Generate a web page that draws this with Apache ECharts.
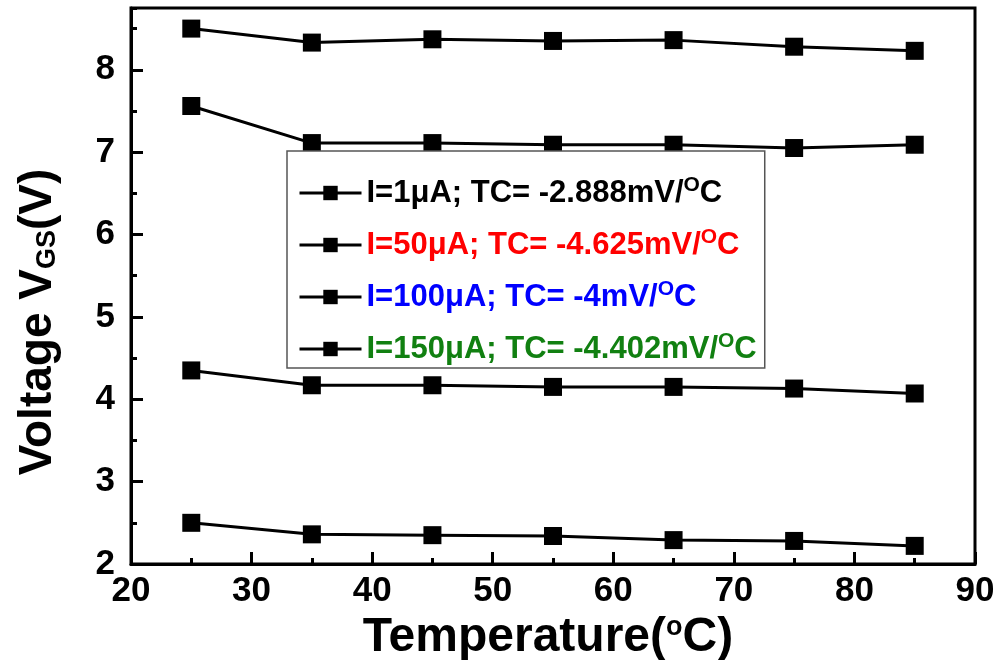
<!DOCTYPE html>
<html>
<head>
<meta charset="utf-8">
<script src="https://cdn.jsdelivr.net/npm/echarts@6/dist/echarts.min.js"></script>
<style>
html, body { margin: 0; padding: 0; background: #fff; }
#chart { width: 1000px; height: 660px; }
</style>
</head>
<body>
<div id="chart"></div>
<script>
// temperatures (°C) and V_GS (V) for each bias current
var temps = [25, 35, 45, 55, 65, 75, 85];
var v1uA = [8.50, 8.33, 8.37, 8.35, 8.36, 8.28, 8.23];
var v50uA = [7.56, 7.11, 7.11, 7.09, 7.09, 7.05, 7.09];
var v100uA = [4.35, 4.17, 4.17, 4.15, 4.15, 4.13, 4.07];
var v150uA = [2.50, 2.36, 2.35, 2.34, 2.29, 2.28, 2.22];

var currents = ['1', '50', '100', '150'];
var tcs = ['-2.888', '-4.625', '-4', '-4.402'];
var textColors = ['#000000', '#ff0000', '#0000ff', '#118011'];

var font = '"Liberation Sans", Arial, sans-serif';

var chart = echarts.init(document.getElementById('chart'));

var values = [v1uA, v50uA, v100uA, v150uA];
var names = [];
var series = [];
for (var i = 0; i < values.length; i++) {
    var name = 'I=' + currents[i] + 'μA; TC= ' + tcs[i] + 'mV/°C';
    names.push(name);
    var pts = [];
    for (var j = 0; j < temps.length; j++) {
        pts.push([temps[j], values[i][j]]);
    }
    series.push({
        name: name,
        type: 'line',
        data: pts,
        symbol: 'rect',
        symbolSize: 18,
        color: '#000',
        lineStyle: { color: '#000', width: 3 },
        itemStyle: { color: '#000' }
    });
}

var legendData = names.map(function (n, i) {
    return {
        name: n,
        textStyle: {
            color: textColors[i],
            rich: {
                s: { fontSize: 21, lineHeight: 21, fontWeight: 'bold', fontFamily: font, color: textColors[i], verticalAlign: 'top' }
            }
        }
    };
});

var tickStyle = { color: '#000', width: 3 };

var option = {
    animation: false,
    grid: {
        left: 131, right: 25, top: 8, bottom: 96,
        outerBoundsMode: 'none',
        show: true, borderColor: '#000', borderWidth: 3
    },
    legend: {
        orient: 'vertical',
        left: 287, top: 151,
        padding: [24, 8, 1, 11],
        itemGap: 16,
        itemWidth: 62,
        itemHeight: 18,
        borderColor: '#555',
        borderWidth: 1.5,
        backgroundColor: '#fff',
        lineStyle: { width: 3, color: '#000' },
        textStyle: { fontFamily: font, fontWeight: 'bold', fontSize: 31, lineHeight: 36, width: 390 },
        formatter: function (name) {
            return name.replace('°C', '{s|O}C');
        },
        data: legendData
    },
    xAxis: {
        type: 'value',
        min: 20, max: 90, interval: 10,
        axisLine: { lineStyle: tickStyle },
        axisTick: { inside: true, length: 12, lineStyle: tickStyle },
        minorTick: { show: true, splitNumber: 2, length: 6, lineStyle: tickStyle },
        splitLine: { show: false },
        axisLabel: { color: '#000', fontFamily: font, fontWeight: 'bold', fontSize: 35, margin: 10 },
        name: 'Temperature({o|o}C)',
        nameLocation: 'middle',
        nameGap: 41,
        nameTextStyle: {
            color: '#000', fontFamily: font, fontWeight: 'bold', fontSize: 48,
            padding: [0, 10, 0, 0],
            rich: { o: { fontSize: 27, fontFamily: font, verticalAlign: 'top', color: '#000' } }
        }
    },
    yAxis: [{
        type: 'value',
        min: 2, max: 8.75, interval: 1,
        axisLine: { lineStyle: tickStyle },
        axisTick: { inside: true, length: 12, lineStyle: tickStyle },
        splitLine: { show: false },
        axisLabel: { color: '#000', fontFamily: font, fontWeight: 'bold', fontSize: 35, margin: 16, showMaxLabel: false },
        name: 'Voltage V{g|GS}(V)',
        nameLocation: 'middle',
        nameRotate: 90,
        nameGap: 70,
        nameTextStyle: {
            color: '#000', fontFamily: font, fontWeight: 'bold', fontSize: 46,
            padding: [0, 72, 0, 0],
            rich: { g: { fontSize: 27, fontFamily: font, fontWeight: 'bold', verticalAlign: 'bottom', color: '#000' } }
        }
    }, {
        // half-volt minor ticks
        type: 'value',
        position: 'left',
        min: 2, max: 8.75, interval: 0.5,
        axisLine: { show: false },
        axisTick: { inside: true, length: 6, lineStyle: tickStyle },
        splitLine: { show: false },
        axisLabel: { show: false }
    }],
    series: series
};

chart.setOption(option);
</script>
</body>
</html>
